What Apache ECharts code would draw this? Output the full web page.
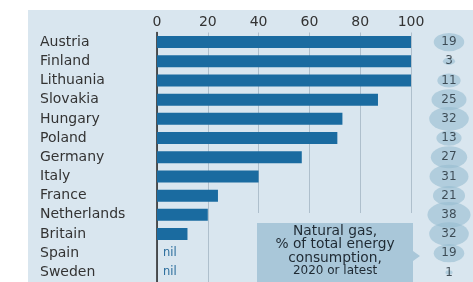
<!DOCTYPE html>
<html><head><meta charset="utf-8">
<script src="https://cdn.jsdelivr.net/npm/echarts@6/dist/echarts.min.js"></script>
<style>html,body{margin:0;padding:0;background:#fff}#c{width:473px;height:282px}</style>
</head><body><div id="c"></div>
<script>
var countries = ['Austria','Finland','Lithuania','Slovakia','Hungary','Poland','Germany','Italy','France','Netherlands','Britain','Spain','Sweden'];
var shareRussian = [100,100,100,87,73,71,57,40,24,20,12,null,null];
var gasShare = [19,3,11,25,32,13,27,31,21,38,32,19,1];
var xTicks = [0,20,40,60,80,100];

var panel = '#d9e6ef';
var FONT = 'DejaVu Sans';
var barData = shareRussian.map(function(v){
  if (v === null) return {value:0, label:{show:true, formatter:'nil', position:'right', distance:6, color:'#2a6d9c', fontSize:11.5, fontFamily:FONT}};
  return v;
});
var bubbleData = gasShare.map(function(v,i){ return [0.5, countries[i], v]; });

var chart = echarts.init(document.getElementById('c'));
chart.setOption({
  animation:false,
  backgroundColor:'#ffffff',
  graphic:[
    {type:'rect', z:-10, silent:true, shape:{x:28,y:10,width:445,height:272}, style:{fill:panel}},
    {type:'rect', z:50, silent:true, shape:{x:230,y:213,width:195,height:10}, style:{fill:panel}},
    {type:'polygon', z:60, silent:true, shape:{points:[[257,223],[413,223],[413,251],[420,256],[413,261],[413,282],[257,282]]}, style:{fill:'#a9c7d9'}},
    {type:'text', z:61, silent:true, style:{x:335, y:225, text:'Natural gas,\n% of total energy\nconsumption,', fill:'#1f2a33', font:'13.8px "DejaVu Sans"', align:'center', verticalAlign:'top', lineHeight:13.2}},
    {type:'text', z:61, silent:true, style:{x:335, y:265, text:'2020 or latest', fill:'#1f2a33', font:'12px "DejaVu Sans"', align:'center', verticalAlign:'top'}}
  ],
  grid:[
    {left:157, top:32.5, width:254, height:254.5, containLabel:false},
    {left:430, top:32.5, width:38, height:254.5}
  ],
  xAxis:[
    {gridIndex:0, type:'value', position:'top', min:0, max:100, interval:20,
     axisLine:{show:false}, axisTick:{show:false},
     axisLabel:{color:'#333', fontSize:14, fontFamily:FONT, margin:3},
     splitLine:{show:true, lineStyle:{color:'#aebfcc', width:1}}},
    {gridIndex:1, type:'value', min:0, max:1, show:false}
  ],
  yAxis:[
    {gridIndex:0, type:'category', data:countries, inverse:true,
     axisLine:{show:true, lineStyle:{color:'#222', width:1.5}}, axisTick:{show:false},
     axisLabel:{align:'left', margin:117, color:'#333', fontSize:14, fontFamily:FONT}},
    {gridIndex:1, type:'category', data:countries, inverse:true, show:false}
  ],
  series:[
    {type:'bar', xAxisIndex:0, yAxisIndex:0, data:barData, barWidth:12, itemStyle:{color:'#1a6ba0'}, z:3},
    {type:'scatter', xAxisIndex:1, yAxisIndex:1, data:bubbleData,
     symbol:'circle',
     symbolSize:function(d){ var w = 7.0*Math.sqrt(d[2]); return [w, w*0.6]; },
     itemStyle:{color:'rgba(150,188,209,0.75)'},
     label:{show:true, position:'inside', formatter:function(p){return p.value[2];}, color:'#1f2a33', fontSize:12, fontFamily:FONT}}
  ]
});
</script></body></html>
